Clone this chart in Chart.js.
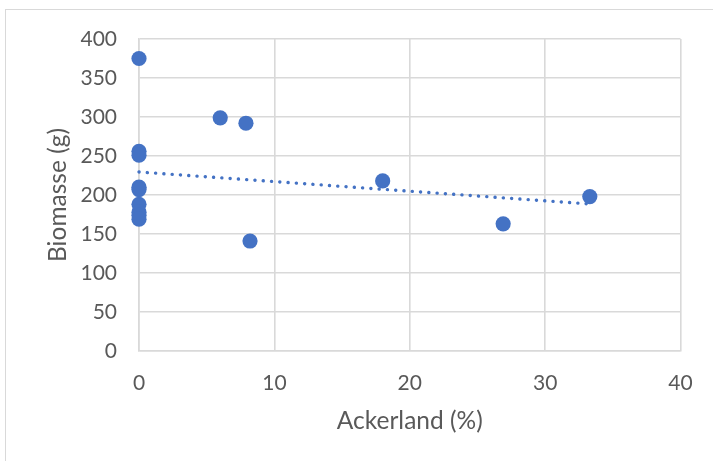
<!DOCTYPE html>
<html>
<head>
<meta charset="utf-8">
<script src="https://cdn.jsdelivr.net/npm/chart.js@4/dist/chart.umd.min.js"></script>
<style>
  html, body { margin: 0; padding: 0; background: #fff; }
  #wrap { position: relative; width: 713px; height: 461px; overflow: hidden; }
  #frame { position: absolute; left: 5px; top: 9px; width: 800px; height: 600px;
           border-left: 1px solid #d9d9d9; border-top: 1px solid #d9d9d9; }
  #c { position: absolute; left: 0; top: 0; }
</style>
</head>
<body>
<div id="wrap">
  <div id="frame"></div>
  <canvas id="c" width="713" height="461"></canvas>
</div>
<script>
// Share of arable land around each site (%) and the measured biomass (g)
const ackerland = [0, 0, 0, 0, 0, 0, 0, 0, 0, 6, 7.9, 8.2, 18, 26.9, 33.3];
const biomasse  = [375, 256, 251, 210, 207, 188, 178, 174, 169, 299, 292, 141, 218, 163, 198];

// Axis ticks
const xTicks = [0, 10, 20, 30, 40];
const yTicks = [0, 50, 100, 150, 200, 250, 300, 350, 400];

const xLabel = 'Ackerland (%)';
const yLabel = 'Biomasse (g)';

const blue = '#4472C4';
const grid = '#d9d9d9';
const textColor = '#595959';
const fontFamily = 'Lato, "Open Sans", sans-serif';

// Linear least-squares trendline over the data range
function linearFit(xs, ys) {
  const n = xs.length;
  let sx = 0, sy = 0, sxx = 0, sxy = 0;
  for (let i = 0; i < n; i++) {
    sx += xs[i]; sy += ys[i]; sxx += xs[i] * xs[i]; sxy += xs[i] * ys[i];
  }
  const b = (n * sxy - sx * sy) / (n * sxx - sx * sx);
  const a = (sy - b * sx) / n;
  return { a, b };
}
const fit = linearFit(ackerland, biomasse);
const xMin = Math.min(...ackerland), xMax = Math.max(...ackerland);
const trend = [xMin, xMax].map(x => ({ x, y: fit.a + fit.b * x }));

const points = ackerland.map((x, i) => ({ x, y: biomasse[i] }));

new Chart(document.getElementById('c'), {
  type: 'scatter',
  data: {
    datasets: [
      {
        label: 'Biomasse',
        data: points,
        backgroundColor: blue,
        borderWidth: 0,
        pointRadius: 7.6,
        pointHoverRadius: 7.6,
        clip: false,
        order: 1
      },
      {
        label: 'Linear (Biomasse)',
        type: 'line',
        data: trend,
        borderColor: blue,
        borderWidth: 3.4,
        borderDash: [0.1, 8.2],
        borderCapStyle: 'round',
        pointRadius: 0,
        fill: false,
        clip: false,
        order: 0
      }
    ]
  },
  options: {
    responsive: false,
    animation: false,
    devicePixelRatio: 1,
    layout: { padding: { left: 0, right: 32.5, top: 39, bottom: 0 } },
    plugins: { legend: { display: false }, tooltip: { enabled: false } },
    scales: {
      x: {
        type: 'linear',
        min: xTicks[0],
        max: xTicks[xTicks.length - 1],
        afterBuildTicks: s => { s.ticks = xTicks.map(v => ({ value: v })); },
        afterFit: s => { s.height = 110; },
        grid: { color: grid, lineWidth: 1.6, drawTicks: false },
        border: { color: grid, width: 1.6 },
        ticks: { color: textColor, padding: 20, font: { family: fontFamily, size: 21 } },
        title: {
          display: true, text: xLabel, color: textColor,
          font: { family: fontFamily, size: 24.5 },
          padding: { top: 0, bottom: 25 }
        }
      },
      y: {
        type: 'linear',
        min: yTicks[0],
        max: yTicks[yTicks.length - 1],
        afterBuildTicks: s => { s.ticks = yTicks.map(v => ({ value: v })); },
        afterFit: s => { s.width = 139; },
        grid: { color: grid, lineWidth: 1.6, drawTicks: false },
        border: { color: grid, width: 1.6 },
        ticks: { color: textColor, padding: 22, font: { family: fontFamily, size: 21 } },
        title: {
          display: true, text: yLabel, color: textColor,
          font: { family: fontFamily, size: 24.5 },
          padding: { top: 43, bottom: 0 }
        }
      }
    }
  }
});
</script>
</body>
</html>
